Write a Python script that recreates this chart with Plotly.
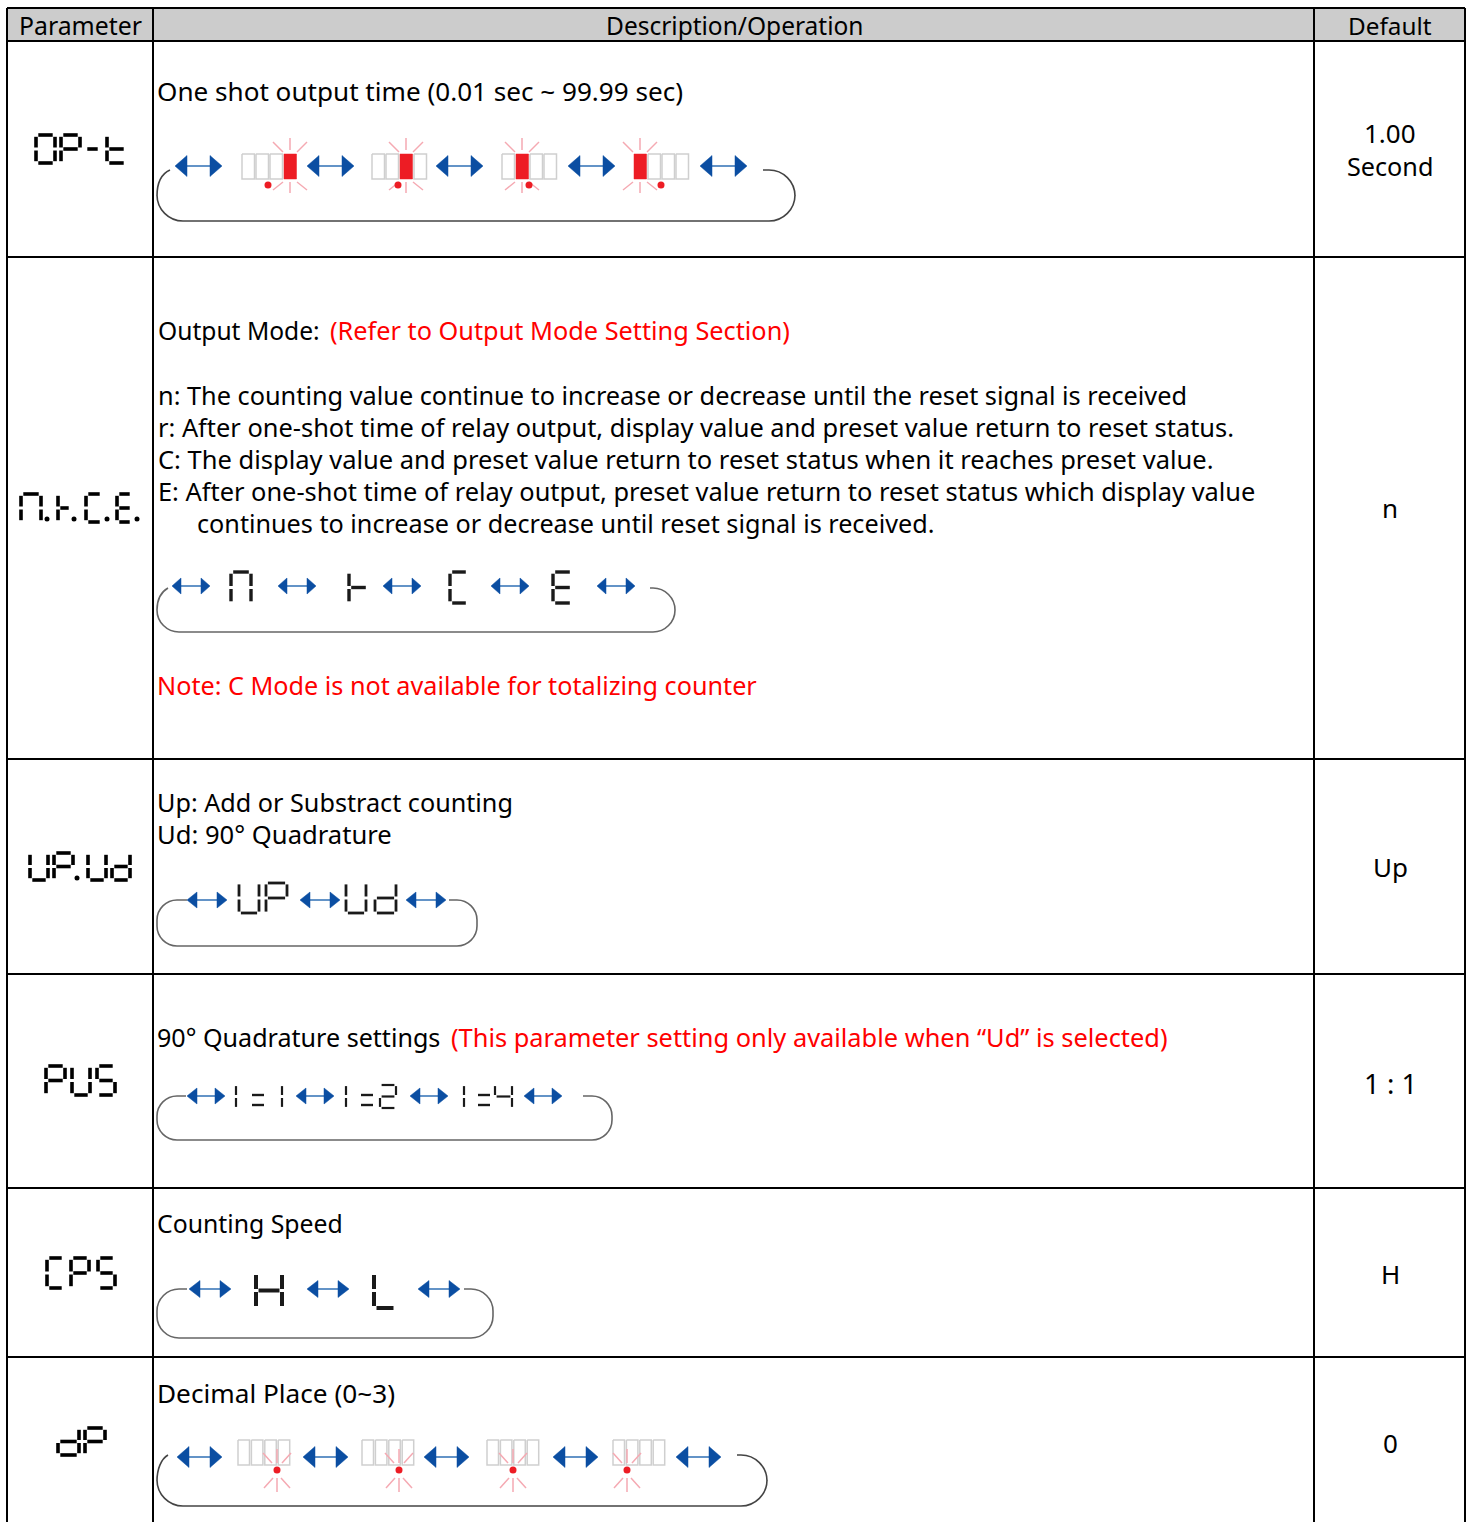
import plotly.graph_objects as go

FONT = 'Noto Sans'
BLACK = '#000000'
RED = '#ff0000'
HEADER = '#cccccc'
BLUE = '#0b4ea2'
LED = '#ed1c24'
RAY = '#f5a9b2'
BOX = '#cfcfcf'
LOOP = '#666666'
LOOP_DARK = '#444444'
SEG = '#1a1a1a'

# table grid
col_edges = [7, 153, 1314, 1465]
row_edges = [8, 41, 257, 759, 974, 1188, 1357]

headers = ['Parameter', 'Description/Operation', 'Default']
header_x = [80, 734, 1390]
header_size = [24.8, 24.5, 24.3]
defaults = ['1.00', 'Second', 'n', 'Up', '1 : 1', 'H', '0']
default_y = [134, 167, 509, 868, 1084, 1275, 1444]
default_size = [26, 25.2, 26, 26, 27.5, 26, 26]

desc_lines = [
    'One shot output time (0.01 sec ~ 99.99 sec)',
    'Output Mode:',
    'n: The counting value continue to increase or decrease until the reset signal is received',
    'r: After one-shot time of relay output, display value and preset value return to reset status.',
    'C: The display value and preset value return to reset status when it reaches preset value.',
    'E: After one-shot time of relay output, preset value return to reset status which display value',
    'continues to increase or decrease until reset signal is received.',
    'Up: Add or Substract counting',
    'Ud: 90° Quadrature',
    '90° Quadrature settings',
    'Counting Speed',
    'Decimal Place (0~3)',
]
desc_x = [157, 158, 158, 158, 158, 158, 197, 157, 157, 157, 157, 157]
desc_y = [92, 331, 396, 428, 460, 492, 524, 803, 835, 1038, 1224, 1394]
desc_size = [26.1, 24.6, 25.3, 25.4, 25.5, 25.4, 25.2, 25.2, 25.6, 25.1, 24.8, 26.2]

red_lines = [
    '(Refer to Output Mode Setting Section)',
    'Note: C Mode is not available for totalizing counter',
    '(This parameter setting only available when “Ud” is selected)',
]
red_x = [330, 157, 451]
red_y = [331, 686, 1038]
red_size = [25.3, 25.2, 25.4]

# seven segment glyphs, a-g
SEGMENTS = {
    '0': 'abcdef', 'P': 'abefg', '-': 'g', 't': 'defg', 'n': 'abcef', 'r': 'efg',
    'C': 'adef', 'E': 'adefg', 'U': 'bcdef', 'd': 'bcdeg', 'S': 'acdfg', 'H': 'bcefg',
    'L': 'def', '1': 'ef', '2': 'abdeg', '4': 'bcfg',
}

# (char, left, top, width, height)
param_glyphs = [
    [('0', 36, 135, 19, 28), ('P', 61, 135, 19, 28), ('-', 85, 135, 15, 28), ('t', 107, 135, 19, 28)],
    [('n', 21, 494, 20, 28), ('r', 58, 494, 13, 28), ('C', 86, 494, 16, 28), ('E', 117, 494, 15, 28)],
    [('U', 30, 853, 18, 27), ('P', 54, 853, 19, 27), ('U', 88, 853, 18, 27), ('d', 112, 853, 18, 27)],
    [('P', 46, 1066, 19, 29), ('U', 72, 1066, 18, 29), ('S', 97, 1066, 18, 29)],
    [('C', 47, 1258, 17, 30), ('P', 71, 1258, 18, 30), ('S', 98, 1258, 17, 30)],
    [('d', 58, 1428, 21, 27), ('P', 85, 1428, 20, 27)],
]
param_dots = [(47, 519), (74, 519), (107, 519), (137, 519), (77, 878)]

# one group per diagram, with its stroke width
diagram_glyphs = [
    (3.4, [('n', 231, 572, 20, 31), ('r', 349, 572, 19, 31), ('C', 450, 572, 18, 31), ('E', 553, 572, 19, 31)]),
    (2.8, [('U', 239, 883, 20, 30), ('P', 266, 883, 21, 30), ('U', 346, 883, 20, 30), ('d', 375, 883, 21, 30)]),
    (2.2, [('1', 236, 1085, 0, 23), ('1', 282, 1085, 0, 23), ('1', 346, 1085, 0, 23), ('2', 380, 1085, 16, 23),
           ('1', 464, 1085, 0, 23), ('4', 495, 1085, 17, 23)]),
    (4, [('H', 256, 1273, 26, 35), ('L', 374, 1273, 22, 35)]),
]
colon_x = [252, 361, 478]

# arrows: (left, right, y, head half height, head length)
arrow_rows = [
    ([175, 307, 436, 568, 700], 47, 166, 10.5, 12),
    ([172, 278, 383, 491, 597], 38, 586, 8, 9),
    ([187, 300, 406], 40, 900, 8, 10),
    ([187, 296, 410, 524], 38, 1096, 8, 10),
    ([189, 307, 418], 42, 1289, 8.5, 11),
    ([177, 303, 424, 553, 676], 45, 1457, 10.5, 12),
]

# return loops: start x, left, top, bottom, right, end x, radius, colour
loops = [
    (170, 157, 170, 221, 795, 763, 26, LOOP_DARK),
    (168, 157, 588, 632, 675, 650, 22, LOOP),
    (187, 157, 900, 946, 477, 449, 20, LOOP),
    (186, 157, 1096, 1140, 612, 583, 20, LOOP),
    (187, 157, 1289, 1338, 493, 464, 22, LOOP),
    (168, 157, 1455, 1506, 767, 737, 26, LOOP_DARK),
]

# digit displays: left edge, lit box
one_shot_left = [242, 372, 502, 634]
one_shot_lit = [3, 2, 1, 0]
one_shot_dot = [268, 398, 529, 661]
decimal_left = [238, 362, 487, 613]
decimal_dot = [277, 399, 513, 627]


def segment_xy(ch, x, y, w, h, t):
    g = t / 2 + 0.5
    end = t / 2
    mid = 1.5
    m = y + h / 2
    parts = {
        'a': [(x + g, y), (x + w - g, y)],
        'b': [(x + w, y + end), (x + w, m - mid)],
        'c': [(x + w, m + mid), (x + w, y + h - end)],
        'd': [(x + g, y + h), (x + w - g, y + h)],
        'e': [(x, m + mid), (x, y + h - end)],
        'f': [(x, y + end), (x, m - mid)],
        'g': [(x + g, m), (x + w - g, m)],
    }
    xs, ys = [], []
    for s in SEGMENTS[ch]:
        for px, py in parts[s]:
            xs.append(px)
            ys.append(py)
        xs.append(None)
        ys.append(None)
    return xs, ys


def loop_path(sx, l, top, bot, r, ex, rad):
    k = 0.45 * rad
    if sx > l + rad:
        left = f'M {sx},{top} L {l + rad},{top} C {l + k},{top} {l},{top + k} {l},{top + rad} '
    else:
        left = f'M {sx},{top} C {l + 4},{top + 4} {l},{top + rad - k} {l},{top + rad} '
    return (
        left +
        f'L {l},{bot - rad} C {l},{bot - k} {l + k},{bot} {l + rad},{bot} '
        f'L {r - rad},{bot} C {r - k},{bot} {r},{bot - k} {r},{bot - rad} '
        f'L {r},{top + rad} C {r},{top + k} {r - k},{top} {r - rad},{top} L {ex},{top}'
    )


fig = go.Figure()

# ── header band and grid ──────────────────────────────────────────────────
fig.add_shape(type='rect', x0=col_edges[0], x1=col_edges[-1], y0=row_edges[0], y1=row_edges[1],
              fillcolor=HEADER, line=dict(width=0), layer='below')
for e in col_edges:
    fig.add_shape(type='line', x0=e, x1=e, y0=row_edges[0], y1=1522, line=dict(color=BLACK, width=2))
for e in row_edges:
    fig.add_shape(type='line', x0=col_edges[0], x1=col_edges[-1], y0=e, y1=e, line=dict(color=BLACK, width=2))

# ── return loops ──────────────────────────────────────────────────────────
for sx, l, top, bot, r, ex, rad, color in loops:
    fig.add_shape(type='path', path=loop_path(sx, l, top, bot, r, ex, rad), line=dict(color=color, width=1.6))

# ── double arrows ─────────────────────────────────────────────────────────
head_x, head_y, shaft_x, shaft_y = [], [], [], []
for lefts, length, y, half, head in arrow_rows:
    for a in lefts:
        b = a + length
        head_x += [a, a + head, a + head, a, None, b, b - head, b - head, b, None]
        head_y += [y, y - half, y + half, y, None, y, y - half, y + half, y, None]
        shaft_x += [a + head, b - head, None]
        shaft_y += [y, y, None]
fig.add_trace(go.Scatter(x=shaft_x, y=shaft_y, mode='lines', line=dict(color='#2f6fb5', width=1.5)))
fig.add_trace(go.Scatter(x=head_x, y=head_y, mode='lines', fill='toself', fillcolor=BLUE, line=dict(color=BLUE, width=0.5)))

# ── digit displays ────────────────────────────────────────────────────────
box_x, box_y, lit_x, lit_y, ray_x, ray_y, dot_x, dot_y = [], [], [], [], [], [], [], []
for left, lit, dot in zip(one_shot_left, one_shot_lit, one_shot_dot):
    for i in range(4):
        x0 = left + i * 14
        target = (lit_x, lit_y) if i == lit else (box_x, box_y)
        target[0].extend([x0, x0 + 12.5, x0 + 12.5, x0, x0, None])
        target[1].extend([154, 154, 179, 179, 154, None])
    cx = left + lit * 14 + 6
    for dx0, dy0, dx1, dy1 in [(0, -28, 0, -16), (-17, -24, -7, -14), (17, -24, 7, -14),
                               (0, 16, 0, 27), (-17, 24, -7, 16), (17, 24, 7, 16)]:
        ray_x += [cx + dx0, cx + dx1, None]
        ray_y += [166 + dy0, 166 + dy1, None]
    dot_x.append(dot)
    dot_y.append(185)
for left, dot in zip(decimal_left, decimal_dot):
    for i in range(4):
        x0 = left + i * 13.4
        box_x += [x0, x0 + 11.5, x0 + 11.5, x0, x0, None]
        box_y += [1440, 1440, 1465, 1465, 1440, None]
    for dx0, dy0, dx1, dy1 in [(0, -21, 0, -7), (-14, -17, -5, -7), (14, -17, 5, -7),
                               (0, 8, 0, 22), (-13, 18, -4, 8), (13, 18, 4, 8)]:
        ray_x += [dot + dx0, dot + dx1, None]
        ray_y += [1470 + dy0, 1470 + dy1, None]
    dot_x.append(dot)
    dot_y.append(1470)
fig.add_trace(go.Scatter(x=box_x, y=box_y, mode='lines', line=dict(color=BOX, width=1.5)))
fig.add_trace(go.Scatter(x=ray_x, y=ray_y, mode='lines', line=dict(color=RAY, width=1.5)))
fig.add_trace(go.Scatter(x=lit_x, y=lit_y, mode='lines', fill='toself', fillcolor=LED, line=dict(color=LED, width=0.5)))
fig.add_trace(go.Scatter(x=dot_x, y=dot_y, mode='markers', marker=dict(color=LED, size=7)))

# ── seven segment text ────────────────────────────────────────────────────
seg_x, seg_y = [], []
for row in param_glyphs:
    for g in row:
        xs, ys = segment_xy(*g, 3.6)
        seg_x += xs
        seg_y += ys
fig.add_trace(go.Scatter(x=seg_x, y=seg_y, mode='lines', line=dict(color=BLACK, width=3.6)))
fig.add_trace(go.Scatter(x=[p[0] for p in param_dots], y=[p[1] for p in param_dots], mode='markers',
                         marker=dict(color=BLACK, size=5)))

for width, group in diagram_glyphs:
    seg_x, seg_y = [], []
    for g in group:
        xs, ys = segment_xy(*g, width)
        seg_x += xs
        seg_y += ys
    fig.add_trace(go.Scatter(x=seg_x, y=seg_y, mode='lines', line=dict(color=SEG, width=width)))

seg_x, seg_y = [], []
for cx in colon_x:
    seg_x += [cx, cx + 12, None, cx, cx + 12, None]
    seg_y += [1095, 1095, None, 1105, 1105, None]
fig.add_trace(go.Scatter(x=seg_x, y=seg_y, mode='lines', line=dict(color=SEG, width=2.4)))


# ── text ──────────────────────────────────────────────────────────────────
def label(text, x, y, size, color=BLACK, anchor='left'):
    fig.add_annotation(x=x, y=y - 1, text=text, showarrow=False, xanchor=anchor, yanchor='middle',
                       font=dict(family=FONT, size=size, color=color), borderpad=0, borderwidth=0)


for text, x, size in zip(headers, header_x, header_size):
    label(text, x, 26, size, anchor='center')
for text, y, size in zip(defaults, default_y, default_size):
    label(text, 1390, y, size, anchor='center')
for text, x, y, size in zip(desc_lines, desc_x, desc_y, desc_size):
    label(text, x, y, size)
for text, x, y, size in zip(red_lines, red_x, red_y, red_size):
    label(text, x, y, size, color=RED)

fig.update_layout(
    width=1470, height=1522,
    margin=dict(l=0, r=0, t=0, b=0),
    paper_bgcolor='white', plot_bgcolor='white',
    showlegend=False,
    xaxis=dict(range=[0, 1470], visible=False, fixedrange=True),
    yaxis=dict(range=[1522, 0], visible=False, fixedrange=True),
)

fig.write_html('out.html', config={'displayModeBar': False},
               post_script="document.body.style.margin='0';document.body.style.overflow='hidden';")
